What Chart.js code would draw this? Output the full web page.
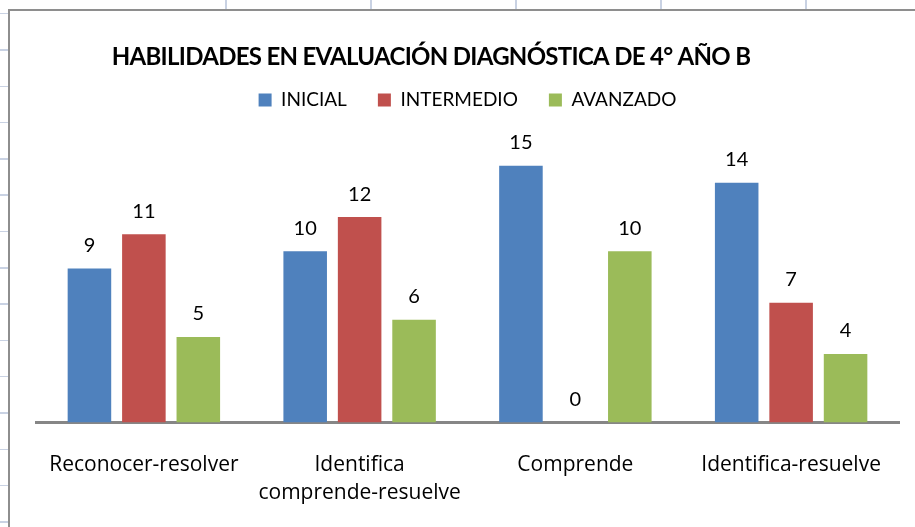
<!DOCTYPE html>
<html>
<head>
<meta charset="utf-8">
<script src="https://cdn.jsdelivr.net/npm/chart.js@4.4.1/dist/chart.umd.min.js"></script>
<style>
  html, body { margin: 0; padding: 0; background: #fff; }
  body { width: 915px; height: 527px; position: relative; overflow: hidden; }
  /* spreadsheet cells showing around the chart */
  .sheet-rows {
    position: absolute; left: 0; top: 13px; width: 8px; height: 514px;
    background: repeating-linear-gradient(to bottom, #c9d2e3 0, #c9d2e3 1.5px, transparent 1.5px, transparent 36.3px);
  }
  .sheet-cols {
    position: absolute; left: 225px; top: 0; width: 690px; height: 9px;
    background: repeating-linear-gradient(to right, #c9d2e3 0, #c9d2e3 2px, transparent 2px, transparent 145px);
  }
  .frame {
    position: absolute; left: 8px; top: 9px; right: 0; bottom: 0;
    border-left: 2px solid #8e8e8e; border-top: 2px solid #8e8e8e;
  }
  #chart { position: absolute; left: 10px; top: 11px; }
</style>
</head>
<body>
<div class="sheet-rows"></div>
<div class="sheet-cols"></div>
<div class="frame"></div>
<canvas id="chart" width="905" height="516"></canvas>
<script>
  // chart data
  const titleText = 'HABILIDADES EN EVALUACIÓN DIAGNÓSTICA DE 4° AÑO B';
  const categories = ['Reconocer-resolver', ['Identifica', 'comprende-resuelve'], 'Comprende', 'Identifica-resuelve'];
  const inicial = [9, 10, 15, 14];
  const intermedio = [11, 12, 0, 7];
  const avanzado = [5, 6, 10, 4];
  const yMax = 17.7; // hidden value axis

  const fontFamily = 'Lato, "Open Sans", sans-serif';

  // Draws the chart title a bit left of centre, like the sheet does
  const sheetTitle = {
    id: 'sheetTitle',
    afterDraw: function (chart) {
      const ctx = chart.ctx;
      ctx.save();
      ctx.font = 'bold 24px ' + fontFamily;
      ctx.letterSpacing = '-0.7px';
      ctx.fillStyle = '#000';
      ctx.textAlign = 'center';
      ctx.textBaseline = 'middle';
      ctx.fillText(titleText, 421, 46);
      ctx.restore();
    }
  };

  // Value labels above every bar
  const valueLabels = {
    id: 'valueLabels',
    afterDatasetsDraw: function (chart) {
      const ctx = chart.ctx;
      ctx.save();
      ctx.font = '20px ' + fontFamily;
      ctx.fillStyle = '#000';
      ctx.textAlign = 'center';
      ctx.textBaseline = 'middle';
      chart.data.datasets.forEach(function (ds, i) {
        chart.getDatasetMeta(i).data.forEach(function (bar, j) {
          ctx.fillText(String(ds.data[j]), bar.x, bar.y - 23);
        });
      });
      ctx.restore();
    }
  };

  new Chart(document.getElementById('chart'), {
    type: 'bar',
    data: {
      labels: categories,
      datasets: [{
        label: 'INICIAL',
        data: inicial,
        backgroundColor: '#4F81BD'
      }, {
        label: 'INTERMEDIO',
        data: intermedio,
        backgroundColor: '#C0504D'
      }, {
        label: 'AVANZADO',
        data: avanzado,
        backgroundColor: '#9BBB59'
      }]
    },
    options: {
      responsive: false,
      animation: false,
      devicePixelRatio: 1,
      barPercentage: 0.8,
      categoryPercentage: 0.757,
      layout: {
        padding: { left: 26, right: 16, top: 48.5, bottom: 19.5 }
      },
      plugins: {
        legend: {
          position: 'top',
          labels: {
            boxWidth: 13,
            boxHeight: 13,
            padding: 31,
            color: '#000',
            font: { family: fontFamily, size: 19 }
          }
        },
        title: { display: false },
        tooltip: { enabled: false }
      },
      scales: {
        x: {
          grid: { display: false, drawTicks: false },
          border: { display: true, color: '#868686', width: 3 },
          ticks: {
            color: '#000',
            padding: 29,
            maxRotation: 0,
            font: { family: '"Open Sans", Lato, sans-serif', size: 21, lineHeight: 1.333 }
          },
          afterFit: function (scale) {
            scale.height = 85;
          }
        },
        y: {
          display: false,
          min: 0,
          max: yMax
        }
      }
    },
    plugins: [sheetTitle, valueLabels]
  });
</script>
</body>
</html>
